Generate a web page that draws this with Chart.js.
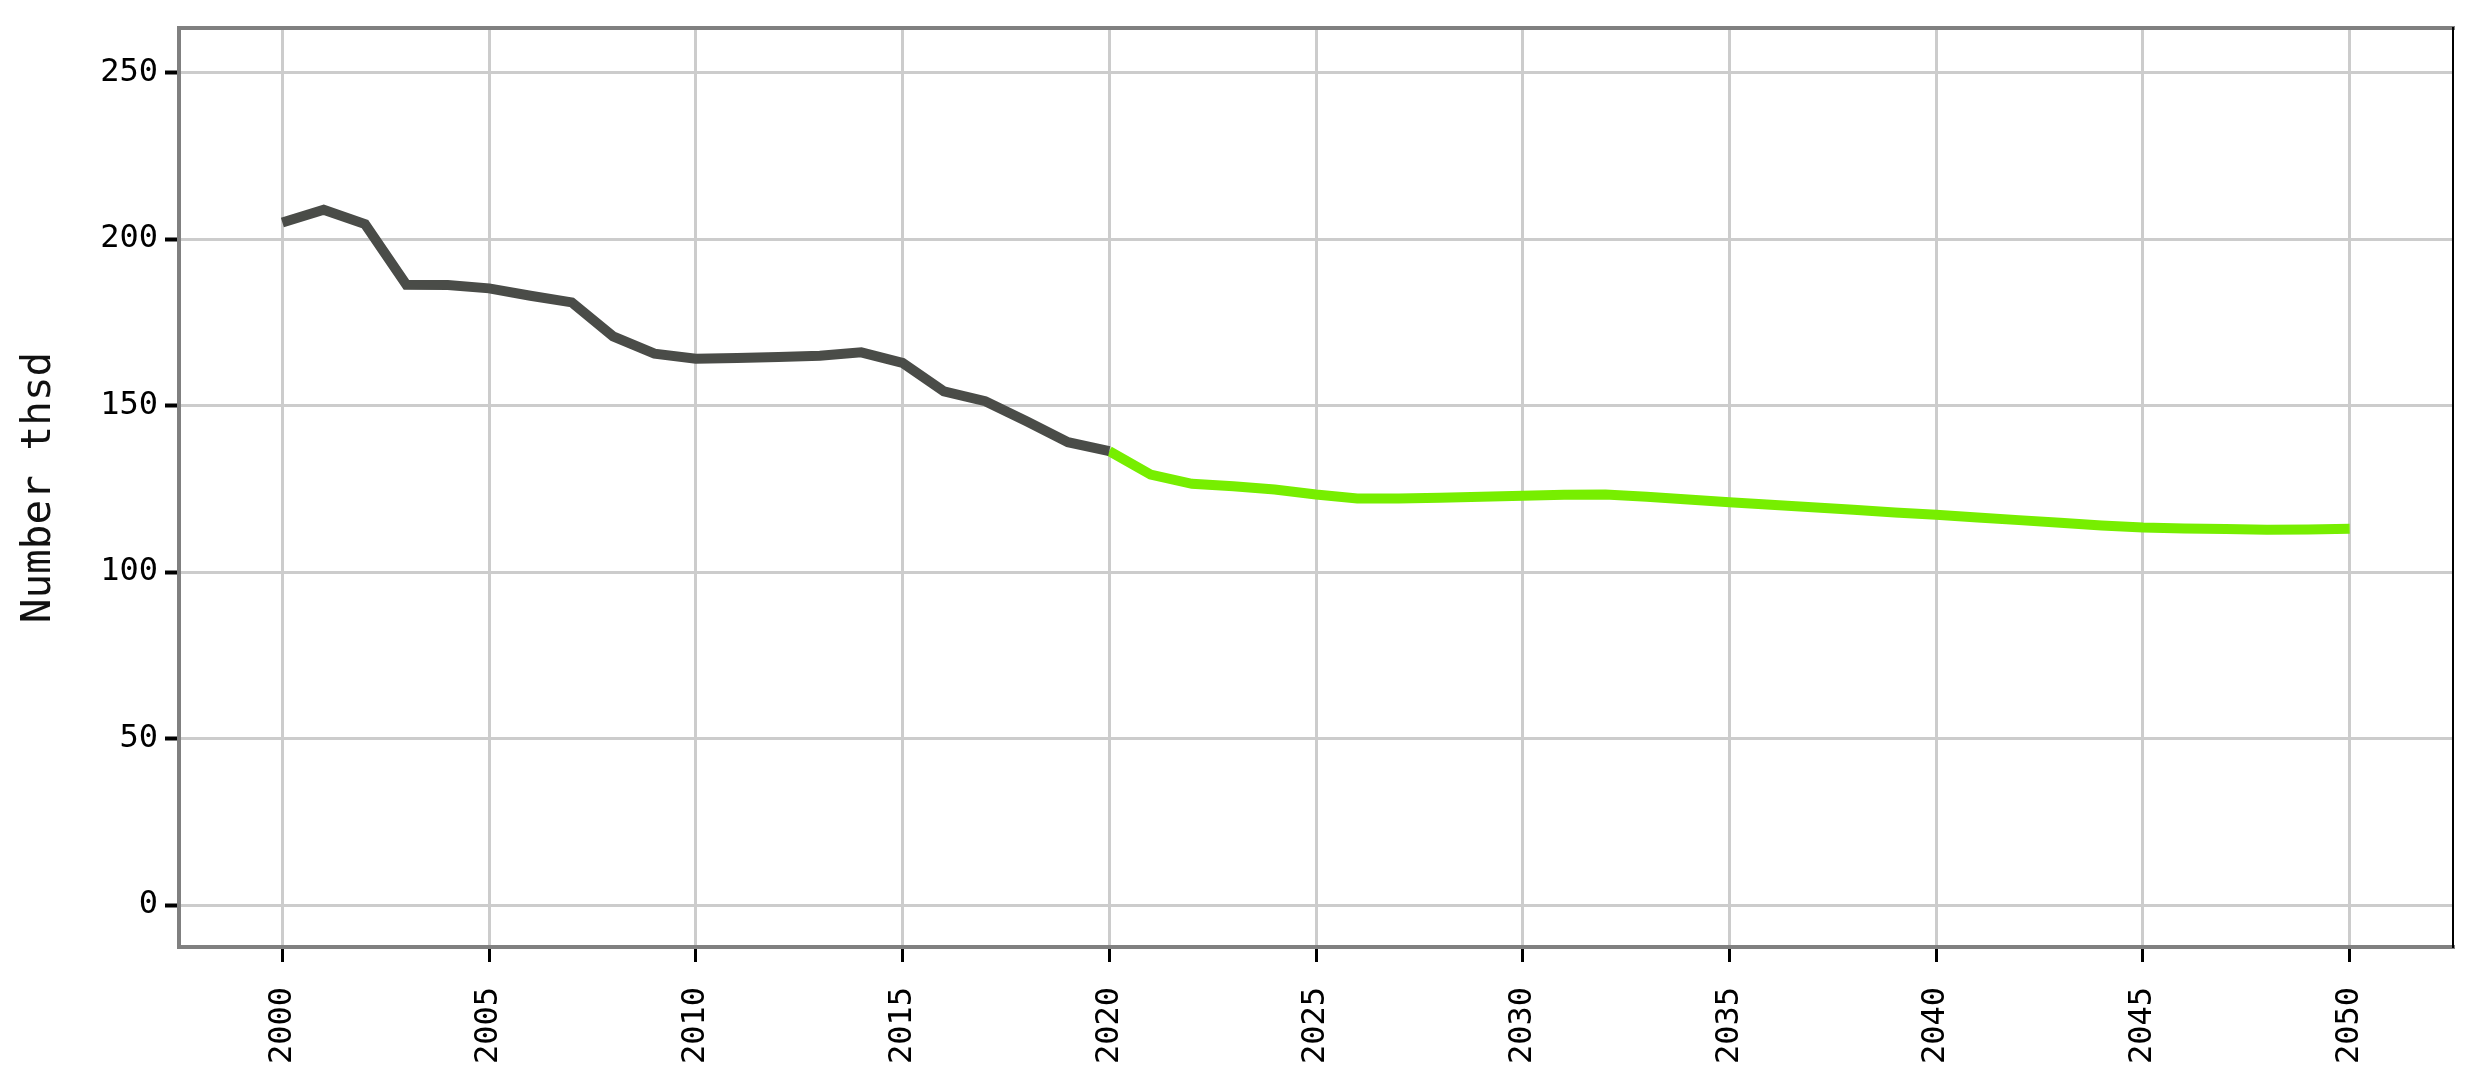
<!DOCTYPE html>
<html>
<head>
<meta charset="utf-8">
<script src="https://cdn.jsdelivr.net/npm/chart.js@4/dist/chart.umd.min.js"></script>
<style>
  html, body { margin: 0; padding: 0; background: #fff; }
  canvas { display: block; }
</style>
</head>
<body>
<canvas id="chart" width="2474" height="1083"></canvas>
<script>
// ── Data ─────────────────────────────────────────────────────
const histYears  = [2000, 2001, 2002, 2003, 2004, 2005, 2006, 2007, 2008, 2009, 2010,
                    2011, 2012, 2013, 2014, 2015, 2016, 2017, 2018, 2019, 2020];
const histValues = [205.0, 208.8, 204.5, 186.3, 186.2, 185.2, 183.0, 181.0, 170.8, 165.6, 164.1,
                    164.3, 164.6, 165.0, 166.0, 162.8, 154.3, 151.3, 145.3, 139.0, 136.3];

const projYears  = [2020, 2021, 2022, 2023, 2024, 2025, 2026, 2027, 2028, 2029, 2030,
                    2031, 2032, 2033, 2034, 2035, 2036, 2037, 2038, 2039, 2040,
                    2041, 2042, 2043, 2044, 2045, 2046, 2047, 2048, 2049, 2050];
const projValues = [136.3, 129.3, 126.5, 125.8, 124.8, 123.3, 122.1, 122.1, 122.3, 122.6, 122.9,
                    123.2, 123.3, 122.6, 121.8, 121.0, 120.2, 119.5, 118.7, 117.9, 117.2,
                    116.4, 115.6, 114.8, 114.0, 113.4, 113.1, 112.9, 112.7, 112.8, 113.0];

const xTicks = [2000, 2005, 2010, 2015, 2020, 2025, 2030, 2035, 2040, 2045, 2050];
const yTicks = [0, 50, 100, 150, 200, 250];
const yTitle = "Number thsd";

// ── Helpers ──────────────────────────────────────────────────
const toPoints = (xs, ys) => xs.map((x, i) => ({ x, y: ys[i] }));
const MONO = "'DejaVu Sans Mono', 'Liberation Mono', monospace";

// top + right frame lines
const framePlugin = {
  id: "frame",
  afterDraw(chart) {
    const { ctx, chartArea: a } = chart;
    ctx.save();
    ctx.lineCap = "square";
    ctx.strokeStyle = "#808080";
    ctx.lineWidth = 4;
    ctx.beginPath();
    ctx.moveTo(a.left, a.top);
    ctx.lineTo(a.right, a.top);
    ctx.stroke();
    ctx.strokeStyle = "#000";
    ctx.lineWidth = 2;
    ctx.beginPath();
    ctx.moveTo(a.right, a.top);
    ctx.lineTo(a.right, a.bottom);
    ctx.stroke();
    ctx.restore();
  }
};

// ── Chart ────────────────────────────────────────────────────
new Chart(document.getElementById("chart").getContext("2d"), {
  type: "line",
  data: {
    datasets: [
      {
        label: "Historic",
        data: toPoints(histYears, histValues),
        borderColor: "#4a4c48",
        borderWidth: 10,
        pointRadius: 0,
        tension: 0,
        borderCapStyle: "butt"
      },
      {
        label: "Projection",
        data: toPoints(projYears, projValues),
        borderColor: "#77ee00",
        borderWidth: 10,
        pointRadius: 0,
        tension: 0,
        borderCapStyle: "butt"
      }
    ]
  },
  options: {
    responsive: false,
    animation: false,
    layout: { padding: { top: 28, right: 21, left: 0, bottom: 0 } },
    plugins: {
      legend: { display: false },
      tooltip: { enabled: false }
    },
    scales: {
      x: {
        type: "linear",
        min: 1997.5,
        max: 2052.5,
        afterBuildTicks: s => { s.ticks = xTicks.map(v => ({ value: v })); },
        afterFit: s => { s.height = 136; },
        ticks: {
          color: "#000",
          font: { family: MONO, size: 32 },
          minRotation: 90,
          maxRotation: 90,
          padding: 25,
          callback: v => String(v)
        },
        grid: {
          color: "#cccccc",
          lineWidth: 3,
          tickColor: "#000",
          tickWidth: 3,
          tickLength: 15
        },
        border: { color: "#808080", width: 4 }
      },
      y: {
        min: -12.6,
        max: 263.4,
        afterBuildTicks: s => { s.ticks = yTicks.map(v => ({ value: v })); },
        afterFit: s => { s.width = 179; },
        ticks: {
          color: "#000",
          font: { family: MONO, size: 32 },
          padding: 7
        },
        title: {
          display: true,
          text: yTitle,
          color: "#111",
          font: { family: MONO, size: 41 },
          padding: { top: 15, bottom: 0 }
        },
        grid: {
          color: "#cccccc",
          lineWidth: 3,
          tickColor: "#000",
          tickWidth: 4,
          tickLength: 14
        },
        border: { color: "#808080", width: 4 }
      }
    }
  },
  plugins: [framePlugin]
});
</script>
</body>
</html>
